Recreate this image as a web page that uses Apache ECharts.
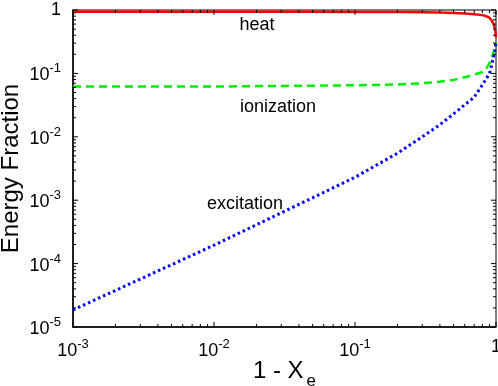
<!DOCTYPE html>
<html>
<head>
<meta charset="utf-8">
<script src="https://cdn.jsdelivr.net/npm/echarts@6/dist/echarts.min.js"></script>
<style>
  html, body { margin: 0; padding: 0; background: #fff; }
</style>
</head>
<body>
<div id="energy-fraction-chart" style="width: 498px; height: 386px"></div>
<script>
// 1 - X_e sample points
var xVals = [0.001, 0.002, 0.005, 0.01, 0.02, 0.05, 0.1, 0.2, 0.3, 0.4, 0.5, 0.6, 0.7, 0.8, 0.85, 0.9, 0.93, 0.95, 0.97, 0.98, 0.99, 1.0];
var heat = [0.938, 0.938, 0.938, 0.938, 0.937, 0.936, 0.933, 0.928, 0.92, 0.91, 0.90, 0.88, 0.86, 0.83, 0.80, 0.75, 0.69, 0.63, 0.57, 0.52, 0.46, 0.37];
var ionization = [0.062, 0.062, 0.062, 0.062, 0.063, 0.064, 0.065, 0.067, 0.070, 0.074, 0.079, 0.087, 0.095, 0.105, 0.117, 0.146, 0.175, 0.20, 0.23, 0.26, 0.28, 0.31];
var excitation = [1.86e-5, 3.77e-5, 9.6e-5, 1.95e-4, 4.1e-4, 1.09e-3, 2.3e-3, 5.5e-3, 0.010, 0.0155, 0.023, 0.032, 0.042, 0.066, 0.081, 0.10, 0.133, 0.166, 0.20, 0.22, 0.26, 0.32];

// curve labels: [text, x, y]
var curveLabels = [
  ['heat', 0.0202, 0.58],
  ['ionization', 0.0284, 0.0295],
  ['excitation', 0.0166, 8.7e-4]
];

// tick positions (decades and minor steps)
var xDecades = [-3, -2, -1];
var yDecades = [-5, -4, -3, -2, -1];

function tickList (decades) {
  var out = [];
  decades.forEach(function (e) {
    for (var k = 1; k <= 9; k++) {
      out.push([k * Math.pow(10, e), k === 1 ? 1 : 0]);
    }
  });
  out.push([1, 1]);
  return out;
}
var xTicks = tickList(xDecades);
var yTicks = tickList(yDecades);

function pairs (ys) {
  return xVals.map(function (x, i) { return [x, ys[i]]; });
}

function powLabel (v) {
  var p = Math.round(Math.log10(v));
  if (p === 0) return '{b|1}';
  return '{b|10}{s|' + p + '}';
}

var labelRich = {
  b: { fontSize: 18, color: '#000', fontFamily: 'Liberation Sans', verticalAlign: 'bottom' },
  s: { fontSize: 13, color: '#000', fontFamily: 'Liberation Sans', verticalAlign: 'bottom', padding: [0, 0, 9, 0] }
};

var chart = echarts.init(document.getElementById('energy-fraction-chart'));

var option = {
  backgroundColor: '#fff',
  animation: false,
  grid: {
    left: 73, right: 2, top: 10, bottom: 59,
    outerBoundsMode: 'none',
    containLabel: false,
    show: true, borderColor: '#000', borderWidth: 1
  },
  xAxis: {
    type: 'log',
    logBase: 10,
    min: 0.001,
    max: 1,
    name: '1 - X{sub|e}',
    nameLocation: 'middle',
    nameGap: 25,
    nameMoveOverlap: false,
    nameTextStyle: {
      fontSize: 24, color: '#000', fontFamily: 'Liberation Sans',
      rich: {
        sub: { fontSize: 17, color: '#000', fontFamily: 'Liberation Sans', padding: [21, 0, 0, 3] }
      }
    },
    axisLine: { lineStyle: { color: '#000', width: 1.5 } },
    axisTick: { show: false },
    splitLine: { show: false },
    axisLabel: {
      margin: 11,
      formatter: powLabel,
      rich: labelRich
    }
  },
  yAxis: {
    type: 'log',
    logBase: 10,
    min: 1e-5,
    max: 1,
    name: 'Energy Fraction',
    nameLocation: 'middle',
    nameGap: 50,
    nameMoveOverlap: false,
    nameTextStyle: { fontSize: 24, color: '#000', fontFamily: 'Liberation Sans' },
    axisLine: { lineStyle: { color: '#000', width: 1.5 } },
    axisTick: { show: false },
    splitLine: { show: false },
    axisLabel: {
      margin: 12,
      formatter: powLabel,
      rich: labelRich
    }
  },
  series: [
    {
      name: 'heat',
      type: 'line',
      data: pairs(heat),
      showSymbol: false,
      lineStyle: { color: '#ff0000', width: 2.5 },
      z: 3
    },
    {
      name: 'ionization',
      type: 'line',
      data: pairs(ionization),
      showSymbol: false,
      lineStyle: { color: '#00ee00', width: 2.5, type: [8, 5] },
      z: 3
    },
    {
      name: 'excitation',
      type: 'line',
      data: pairs(excitation),
      showSymbol: false,
      lineStyle: { color: '#0000ff', width: 3, type: [2.5, 3] },
      z: 3
    },
    { // curve names
      name: 'labels',
      type: 'scatter',
      symbolSize: 0,
      itemStyle: { opacity: 1 },
      data: curveLabels.map(function (d) { return { name: d[0], value: [d[1], d[2]] }; }),
      label: {
        show: true,
        position: 'inside',
        formatter: '{b}',
        fontSize: 18,
        color: '#000',
        opacity: 1,
        textBorderWidth: 0,
        fontFamily: 'Liberation Sans'
      },
      z: 4
    },
    { // x ticks, bottom and top, inward
      type: 'custom',
      data: xTicks.map(function (t) { return [t[0], 1e-5, t[1]]; }),
      encode: { x: 0, y: 1 },
      clip: false,
      silent: true,
      renderItem: function (params, api) {
        var v = api.value(0);
        var len = api.value(2) ? 5 : 3;
        var b = api.coord([v, 1e-5]);
        var t = api.coord([v, 1]);
        var st = { stroke: '#000', lineWidth: 1 };
        return {
          type: 'group',
          children: [
            { type: 'line', shape: { x1: b[0], y1: b[1], x2: b[0], y2: b[1] - len }, style: st },
            { type: 'line', shape: { x1: t[0], y1: t[1], x2: t[0], y2: t[1] + len }, style: st }
          ]
        };
      },
      z: 5
    },
    { // y ticks, left and right, inward
      type: 'custom',
      data: yTicks.map(function (t) { return [0.001, t[0], t[1]]; }),
      encode: { x: 0, y: 1 },
      clip: false,
      silent: true,
      renderItem: function (params, api) {
        var v = api.value(1);
        var len = api.value(2) ? 5 : 3;
        var l = api.coord([0.001, v]);
        var r = api.coord([1, v]);
        var st = { stroke: '#000', lineWidth: 1 };
        return {
          type: 'group',
          children: [
            { type: 'line', shape: { x1: l[0], y1: l[1], x2: l[0] + len, y2: l[1] }, style: st },
            { type: 'line', shape: { x1: r[0], y1: r[1], x2: r[0] - len, y2: r[1] }, style: st }
          ]
        };
      },
      z: 5
    }
  ]
};

chart.setOption(option);
</script>
</body>
</html>
